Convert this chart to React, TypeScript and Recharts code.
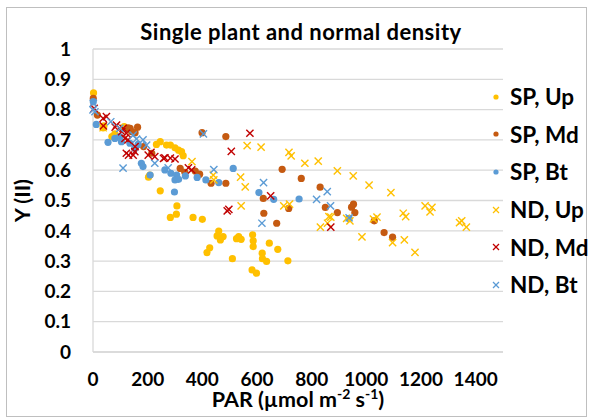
import React from 'react';
import {
  ScatterChart,
  Scatter,
  XAxis,
  YAxis,
  CartesianGrid,
} from 'recharts';

// PAR (x) and Y(II) (y) pairs
const spUp: [number, number][] = [
  [2, 0.855], [37, 0.74], [40, 0.746], [69, 0.711], [80, 0.72], [114, 0.744],
  [203, 0.577], [208, 0.584], [232, 0.685], [246, 0.694], [269, 0.683], [283, 0.683],
  [300, 0.674], [313, 0.666], [324, 0.661], [330, 0.648], [246, 0.532], [307, 0.482],
  [305, 0.455], [283, 0.444], [366, 0.444], [400, 0.438], [460, 0.399], [454, 0.383],
  [466, 0.37], [476, 0.381], [427, 0.344], [417, 0.328], [510, 0.308], [525, 0.374],
  [533, 0.381], [542, 0.372], [584, 0.387], [586, 0.367], [586, 0.348], [619, 0.326],
  [620, 0.308], [635, 0.299], [645, 0.359], [676, 0.339], [713, 0.301], [582, 0.271],
  [598, 0.26],
];

const spMd: [number, number][] = [
  [1, 0.837], [16, 0.782], [128, 0.74], [136, 0.738], [141, 0.727], [163, 0.742],
  [154, 0.724], [185, 0.678], [215, 0.656], [319, 0.606], [336, 0.593], [374, 0.597],
  [390, 0.587], [399, 0.724], [432, 0.557], [486, 0.557], [486, 0.711], [623, 0.507],
  [625, 0.458], [672, 0.425], [692, 0.603], [716, 0.474], [762, 0.573], [831, 0.544],
  [850, 0.477], [894, 0.46], [946, 0.478], [953, 0.488], [958, 0.46], [1029, 0.433],
  [1065, 0.394], [1096, 0.379],
];

const spBt: [number, number][] = [
  [1, 0.826], [12, 0.751], [55, 0.692], [80, 0.705], [98, 0.711], [104, 0.694],
  [135, 0.689], [153, 0.672], [165, 0.685], [177, 0.623], [183, 0.612], [209, 0.584],
  [263, 0.601], [285, 0.59], [306, 0.584], [300, 0.568], [313, 0.57], [298, 0.528],
  [338, 0.581], [381, 0.576], [413, 0.568], [460, 0.559], [513, 0.606], [607, 0.526],
  [661, 0.504], [754, 0.505], [937, 0.441],
];

const ndUp: [number, number][] = [
  [37, 0.74], [362, 0.628], [440, 0.584], [442, 0.568], [540, 0.577], [557, 0.545],
  [564, 0.681], [615, 0.676], [717, 0.659], [725, 0.647], [775, 0.623], [824, 0.63],
  [894, 0.598], [952, 0.581], [1010, 0.551], [1090, 0.526], [542, 0.482], [698, 0.482],
  [719, 0.488], [832, 0.412], [858, 0.425], [863, 0.447], [870, 0.445], [928, 0.441],
  [940, 0.433], [984, 0.38], [1026, 0.439], [1039, 0.445], [1096, 0.361], [1139, 0.37],
  [1135, 0.458], [1144, 0.447], [1178, 0.329], [1215, 0.482], [1240, 0.477], [1233, 0.462],
  [1341, 0.427], [1349, 0.433], [1366, 0.412],
];

const ndMd: [number, number][] = [
  [4, 0.804], [37, 0.771], [49, 0.777], [38, 0.746], [81, 0.742], [86, 0.749],
  [105, 0.727], [110, 0.738], [117, 0.705], [122, 0.722], [128, 0.7], [122, 0.656],
  [130, 0.65], [147, 0.65], [154, 0.678], [153, 0.661], [202, 0.65], [212, 0.659],
  [226, 0.645], [258, 0.639], [263, 0.641], [283, 0.64], [300, 0.637], [349, 0.608],
  [361, 0.601], [506, 0.662], [574, 0.722], [491, 0.466], [497, 0.471], [650, 0.515],
  [870, 0.412],
];

const ndBt: [number, number][] = [
  [0, 0.799], [1, 0.821], [7, 0.793], [65, 0.76], [98, 0.738], [110, 0.607],
  [147, 0.716], [159, 0.703], [183, 0.7], [196, 0.683], [226, 0.623], [275, 0.608],
  [404, 0.72], [442, 0.602], [624, 0.559], [618, 0.425], [818, 0.504], [857, 0.529],
  [869, 0.482], [937, 0.443],
];

const xTicks = [0, 200, 400, 600, 800, 1000, 1200, 1400];
const yTicks = [0, 0.1, 0.2, 0.3, 0.4, 0.5, 0.6, 0.7, 0.8, 0.9, 1];

const YELLOW = '#FFC000';
const ORANGE = '#C55A11';
const BLUE = '#5B9BD5';
const RED = '#C00000';

const FONT = 'Lato, "Open Sans", sans-serif';

const series = [
  { name: 'SP, Up', data: spUp, color: YELLOW, mark: 'dot' },
  { name: 'SP, Md', data: spMd, color: ORANGE, mark: 'dot' },
  { name: 'SP, Bt', data: spBt, color: BLUE, mark: 'dot' },
  { name: 'ND, Up', data: ndUp, color: YELLOW, mark: 'cross' },
  { name: 'ND, Md', data: ndMd, color: RED, mark: 'cross' },
  { name: 'ND, Bt', data: ndBt, color: BLUE, mark: 'cross' },
];

const toPoints = (arr: [number, number][]) => arr.map(([x, y]) => ({ x, y }));

const dotShape = (color: string) => (props: any) => (
  <circle cx={props.cx} cy={props.cy} r={3.6} fill={color} />
);

const crossShape = (color: string) => (props: any) => {
  const { cx, cy } = props;
  const r = 3.6;
  return (
    <g stroke={color} strokeWidth={1.4}>
      <line x1={cx - r} y1={cy - r} x2={cx + r} y2={cy + r} />
      <line x1={cx - r} y1={cy + r} x2={cx + r} y2={cy - r} />
    </g>
  );
};

const tickStyle = { fill: '#000', fontSize: 19, fontWeight: 700, fontFamily: FONT };

const XLabel = (props: any) => {
  const { viewBox } = props;
  const cx = viewBox.x + viewBox.width / 2;
  return (
    <text
      x={cx}
      y={viewBox.y + 55}
      textAnchor="middle"
      fill="#000"
      fontSize={21.5}
      fontWeight={700}
      fontFamily={FONT}
    >
      PAR (µmol m
      <tspan fontSize={14} dy={-8}>-2</tspan>
      <tspan dy={8}> s</tspan>
      <tspan fontSize={14} dy={-8}>-1</tspan>
      <tspan dy={8}>)</tspan>
    </text>
  );
};

const YLabel = (props: any) => {
  const { viewBox } = props;
  const x = viewBox.x + 22;
  const y = viewBox.y + viewBox.height / 2;
  return (
    <text
      x={x}
      y={y}
      transform={`rotate(-90 ${x} ${y})`}
      textAnchor="middle"
      dominantBaseline="central"
      fill="#000"
      fontSize={21.5}
      fontWeight={700}
      fontFamily={FONT}
    >
      Y (II)
    </text>
  );
};

function LegendBox() {
  return (
    <div style={{ position: 'absolute', left: 489, top: 78 }}>
      {series.map((s) => (
        <div
          key={s.name}
          style={{ display: 'flex', alignItems: 'center', height: 37.6 }}
        >
          <svg width={14} height={14} style={{ marginRight: 7 }}>
            {s.mark === 'dot' ? (
              <circle cx={7} cy={7} r={2.6} fill={s.color} />
            ) : (
              <g stroke={s.color} strokeWidth={1.3}>
                <line x1={4} y1={4} x2={10} y2={10} />
                <line x1={4} y1={10} x2={10} y2={4} />
              </g>
            )}
          </svg>
          <span style={{ fontSize: 22.5, fontWeight: 700, fontFamily: FONT, color: '#000' }}>
            {s.name}
          </span>
        </div>
      ))}
    </div>
  );
}

export default function App() {
  return (
    <div
      style={{
        position: 'absolute',
        left: 0,
        top: 0,
        width: 590,
        height: 417,
        background: '#fff',
        fontFamily: FONT,
      }}
    >
      <div
        style={{
          position: 'absolute',
          left: 6,
          top: 7,
          width: 581,
          height: 410,
          boxSizing: 'border-box',
          border: '1px solid #bfbfbf',
        }}
      />
      <div
        style={{
          position: 'absolute',
          left: 0,
          top: 18,
          width: 602,
          textAlign: 'center',
          fontSize: 22,
          letterSpacing: 0.5,
          fontWeight: 700,
          color: '#000',
        }}
      >
        Single plant and normal density
      </div>
      <div style={{ position: 'absolute', left: 0, top: 0 }}>
        <ScatterChart
          width={590}
          height={417}
          margin={{ top: 49, right: 87, bottom: 0, left: 0 }}
        >
          <CartesianGrid vertical={false} stroke="#d9d9d9" strokeWidth={1.3} />
          <XAxis
            type="number"
            dataKey="x"
            domain={[0, 1500]}
            ticks={xTicks}
            interval={0}
            height={65}
            tickSize={0}
            tickMargin={21}
            tickLine={false}
            axisLine={{ stroke: '#d9d9d9', strokeWidth: 1.3 }}
            tick={tickStyle}
            label={<XLabel />}
          />
          <YAxis
            type="number"
            dataKey="y"
            domain={[0, 1]}
            ticks={yTicks}
            interval={0}
            width={93}
            tickSize={0}
            tickMargin={22}
            tickLine={false}
            axisLine={{ stroke: '#d9d9d9', strokeWidth: 1.3 }}
            tick={tickStyle}
            label={<YLabel />}
          />
          {series.map((s) => (
            <Scatter
              key={s.name}
              name={s.name}
              data={toPoints(s.data)}
              isAnimationActive={false}
              shape={s.mark === 'dot' ? dotShape(s.color) : crossShape(s.color)}
            />
          ))}
        </ScatterChart>
      </div>
      <LegendBox />
    </div>
  );
}
